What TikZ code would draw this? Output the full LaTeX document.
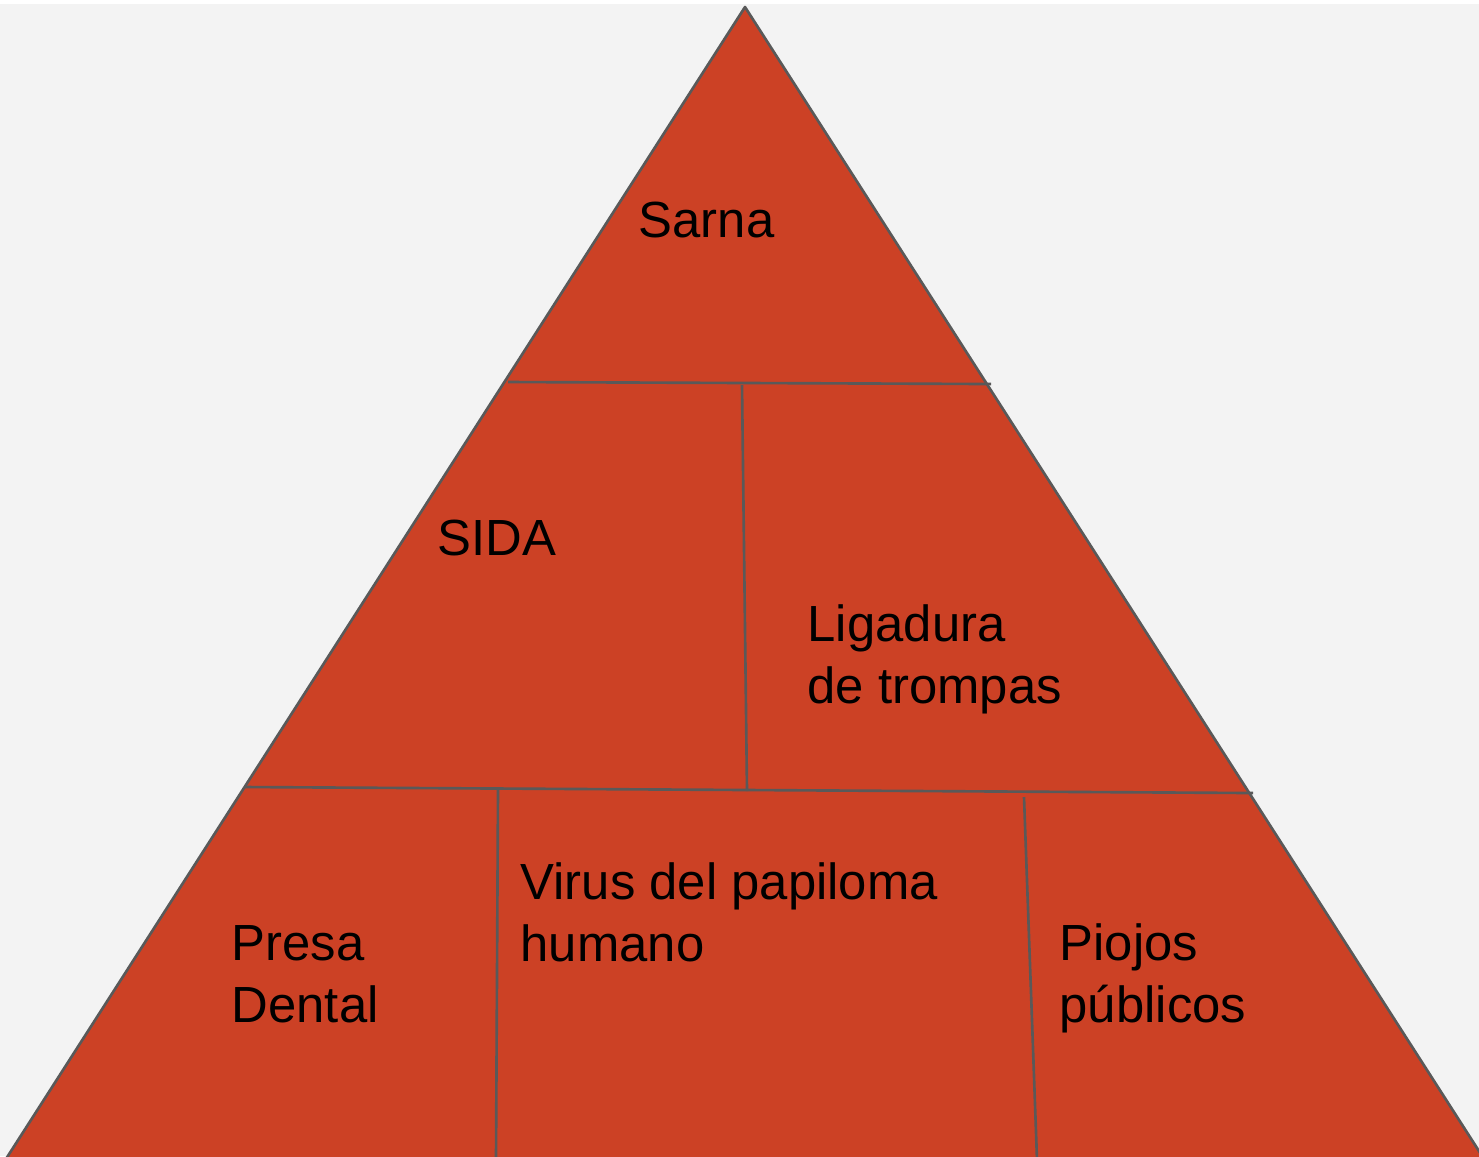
\documentclass[tikz,border=0pt]{standalone}
\usepackage{fontspec}
\setmainfont{Liberation Sans}
\definecolor{pyrred}{HTML}{CC4125}
\definecolor{pyrline}{HTML}{595959}
\definecolor{pyrback}{HTML}{F3F3F3}
\tikzset{
    cellText/.style={anchor=base west, inner sep=0pt, align=left, font=\fontsize{14.45pt}{17.6pt}\selectfont},
    divider/.style={pyrline, line width=0.75pt}
}
\begin{document}
\begin{tikzpicture}[x=0.01cm,y=-0.01cm]
                \useasboundingbox (0,0) rectangle (1479,1156);
                \fill[white] (0,0) rectangle (1479,4);
                \fill[pyrback] (0,4) rectangle (1479,1156);

                \coordinate (T) at (745, 7);
                \coordinate (L) at (4, 1162);
                \coordinate (R) at (1486, 1162);
                \draw[divider, fill=pyrred, line join=round] (L) -- (T) -- (R);

                \coordinate (A1) at (508, 382);
                \coordinate (A2) at (991, 384);
                \coordinate (B1) at (742, 385);
                \coordinate (B2) at (747, 791);
                \coordinate (C1) at (245, 787);
                \coordinate (C2) at (1253, 793);
                \coordinate (D1) at (498, 789);
                \coordinate (D2) at (496, 1160);
                \coordinate (E1) at (1024, 797);
                \coordinate (E2) at (1037, 1160);

                \draw[divider] (A1) -- (A2);
                \draw[divider] (B1) -- (B2);
                \draw[divider] (C1) -- (C2);
                \draw[divider] (D1) -- (D2);
                \draw[divider] (E1) -- (E2);

                \node[cellText] (S) at (638, 237) {Sarna};
                \node[cellText] (H) at (437, 555) {SIDA};
                \node[cellText] (G) at (807, 703) {Ligadura\\de trompas};
                \node[cellText] (V) at (520, 961) {Virus del papiloma\\humano};
                \node[cellText] (P) at (231, 1022) {Presa\\Dental};
                \node[cellText] (J) at (1059, 1022) {Piojos\\públicos};
            \end{tikzpicture}
\end{document}
